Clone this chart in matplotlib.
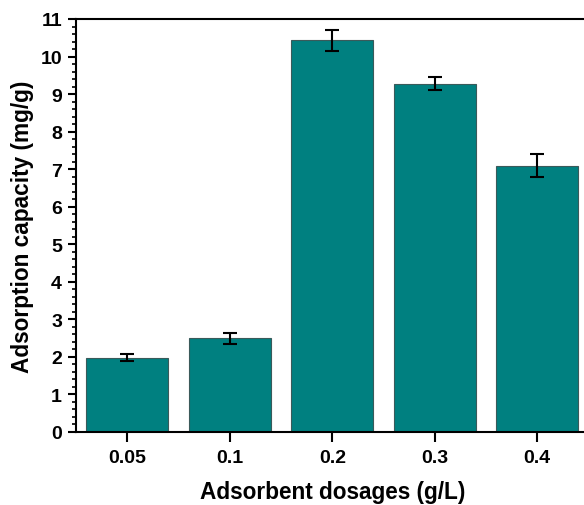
import matplotlib
matplotlib.use("Agg")
import matplotlib.pyplot as plt
from matplotlib.ticker import MultipleLocator

categories = ["0.05", "0.1", "0.2", "0.3", "0.4"]
capacity = [1.98, 2.50, 10.43, 9.28, 7.09]
errors = [0.10, 0.15, 0.28, 0.18, 0.31]

plt.rcParams['font.family'] = ['Liberation Sans', 'DejaVu Sans']
plt.rcParams['font.weight'] = 'bold'

fig = plt.figure(figsize=(5.84, 5.06), dpi=100)
ax = fig.add_axes([76/584, 73/506, 512.5/584, 413/506])

x = list(range(len(categories)))
ax.bar(x, capacity, width=0.8, color='#008080', edgecolor='#3a5a5a', linewidth=0.8,
       yerr=errors, error_kw=dict(ecolor='black', elinewidth=1.5, capsize=5, capthick=1.5))

ax.set_xlim(-0.5, 4.5)
ax.set_ylim(0, 11)
ax.set_xticks(x)
ax.set_xticklabels(categories)
ax.yaxis.set_major_locator(MultipleLocator(1))
ax.yaxis.set_minor_locator(MultipleLocator(0.2))

for s in ax.spines.values():
    s.set_linewidth(1.5)
ax.tick_params(axis='both', which='major', direction='out', length=6, width=1.5, labelsize=14)
ax.tick_params(axis='x', which='major', length=7, pad=5)
ax.tick_params(axis='y', which='major', pad=4)
ax.tick_params(axis='y', which='minor', direction='out', length=3, width=1.2)
ax.tick_params(axis='x', which='minor', bottom=False)

ax.set_xlabel("Adsorbent dosages (g/L)", fontsize=16.3, fontweight='bold', labelpad=10)
ax.set_ylabel("Adsorption capacity (mg/g)", fontsize=16.3, fontweight='bold', labelpad=5)

fig.savefig("out.png", dpi=100)
